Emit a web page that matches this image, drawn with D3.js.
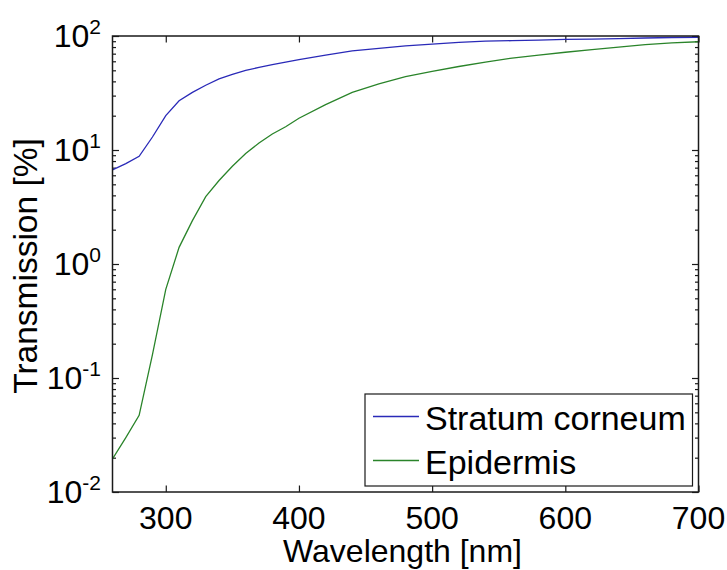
<html>
	<head>
		<meta charset="utf-8">
		<style>
			body { margin: 0; background: #ffffff; }
			svg text { font-family: "Liberation Sans", Arial, sans-serif; fill: #000000; }
		</style>
	</head>
	<body>
		<script src="https://cdn.jsdelivr.net/npm/d3@7/dist/d3.min.js"></script>
		<script>
			// wavelengths in nm, transmission in %
			var wavelengths = [260,270,280,290,300,310,320,330,340,350,360,370,380,390,400,
				420,440,460,480,500,520,540,560,580,600,620,640,660,680,700];
			var stratumCorneum = [6.7,7.6,8.8,13,20,27,32,37,42,46,50,53,56,59,62,
				68,74,78,82,85,88,90,91,92,93.5,94,95,96,97,97.5];
			var epidermis = [0.0195,0.03,0.047,0.16,0.6,1.4,2.4,3.9,5.4,7.2,9.3,11.5,13.8,16,19,
				25,32,38,44,49,54,59,64,68,72,76,80,84,87,89];
			var seriesNames = ["Stratum corneum", "Epidermis"];
			var seriesColors = ["#2a2ab8", "#2a842a"];
			var xTicks = [300,400,500,600,700];
			var yTickExps = [-2,-1,0,1,2];

			var W = 727, H = 570;
			var pL = 112.5, pR = 698.5, pT = 36, pB = 492;

			var svg = d3.select('body').append('svg')
				.attr('width', W)
				.attr('height', H);

			var x = d3.scaleLinear().domain([260, 700]).range([pL, pR]);
			var y = d3.scaleLog().domain([0.01, 100]).range([pB, pT]);

			// minor + major y tick values
			var yMinor = [];
			for(var e = -2; e < 2; e++)
				for(var m = 2; m <= 9; m++)
					yMinor.push(m * Math.pow(10, e));
			var yMajor = yTickExps.map(function(p) { return Math.pow(10, p); });

			var tickColor = "#1a1a1a";

			// ticks pointing inward on all four sides
			var axL = svg.append('g').attr('transform', 'translate(' + pL + ',0)');
			axL.call(d3.axisLeft(y).tickValues(yMajor).tickSize(-6.5).tickFormat(''));
			axL.append('g').call(d3.axisLeft(y).tickValues(yMinor).tickSize(-3.5).tickFormat(''));
			var axR = svg.append('g').attr('transform', 'translate(' + pR + ',0)');
			axR.call(d3.axisRight(y).tickValues(yMajor).tickSize(-6.5).tickFormat(''));
			axR.append('g').call(d3.axisRight(y).tickValues(yMinor).tickSize(-3.5).tickFormat(''));
			var axB = svg.append('g').attr('transform', 'translate(0,' + pB + ')');
			axB.call(d3.axisBottom(x).tickValues(xTicks).tickSize(-6.5).tickFormat(''));
			var axT = svg.append('g').attr('transform', 'translate(0,' + pT + ')');
			axT.call(d3.axisTop(x).tickValues(xTicks).tickSize(-6.5).tickFormat(''));
			svg.selectAll('.domain').remove();
			svg.selectAll('.tick line').attr('stroke', tickColor).attr('stroke-width', 1.2);

			// lines
			var line = d3.line()
				.x(function(d) { return x(d[0]); })
				.y(function(d) { return y(d[1]); });
			svg.append('clipPath').attr('id', 'plotclip')
				.append('rect').attr('x', pL).attr('y', pT).attr('width', pR - pL).attr('height', pB - pT);
			[stratumCorneum, epidermis].forEach(function(vals, i) {
				svg.append('path')
					.datum(wavelengths.map(function(w, k) { return [w, vals[k]]; }))
					.attr('d', line)
					.attr('fill', 'none')
					.attr('stroke', seriesColors[i])
					.attr('stroke-width', 1.3)
					.attr('clip-path', 'url(#plotclip)');
			});

			// box
			svg.append('rect')
				.attr('x', pL).attr('y', pT)
				.attr('width', pR - pL).attr('height', pB - pT)
				.attr('fill', 'none')
				.attr('stroke', tickColor)
				.attr('stroke-width', 1.5);

			// x tick labels
			svg.selectAll('text.xlab')
				.data(xTicks)
				.enter().append('text')
				.attr('class', 'xlab')
				.attr('x', function(d) { return x(d); })
				.attr('y', pB + 37)
				.attr('text-anchor', 'middle')
				.style('font-size', '32px')
				.text(function(d) { return d; });

			// y tick labels 10^n
			var yl = svg.selectAll('text.ylab')
				.data(yTickExps)
				.enter().append('text')
				.attr('class', 'ylab')
				.attr('x', 101)
				.attr('y', function(d) { return y(Math.pow(10, d)) + 11; })
				.attr('text-anchor', 'end')
				.style('font-size', '32px');
			yl.append('tspan').text('10');
			yl.append('tspan')
				.attr('dy', -13)
				.style('font-size', '21px')
				.text(function(d) { return d; });

			// axis titles
			svg.append('text')
				.attr('x', (pL + pR) / 2 - 3)
				.attr('y', 562)
				.attr('text-anchor', 'middle')
				.style('font-size', '32px')
				.text('Wavelength [nm]');
			svg.append('text')
				.attr('transform', 'translate(37,' + ((pT + pB) / 2 + 2) + ') rotate(-90)')
				.attr('text-anchor', 'middle')
				.style('font-size', '33.5px')
				.text('Transmission [%]');

			// legend
			var lg = svg.append('g');
			lg.append('rect')
				.attr('x', 365).attr('y', 394)
				.attr('width', 327.5).attr('height', 92)
				.attr('fill', '#ffffff')
				.attr('stroke', tickColor)
				.attr('stroke-width', 1.2);
			seriesNames.forEach(function(name, i) {
				var cy = 416.5 + i * 44;
				lg.append('line')
					.attr('x1', 373).attr('x2', 419)
					.attr('y1', cy).attr('y2', cy)
					.attr('stroke', seriesColors[i])
					.attr('stroke-width', 1.3);
				lg.append('text')
					.attr('x', 425)
					.attr('y', cy + 13)
					.style('font-size', '34px')
					.text(name);
			});
		</script>
	</body>
</html>
